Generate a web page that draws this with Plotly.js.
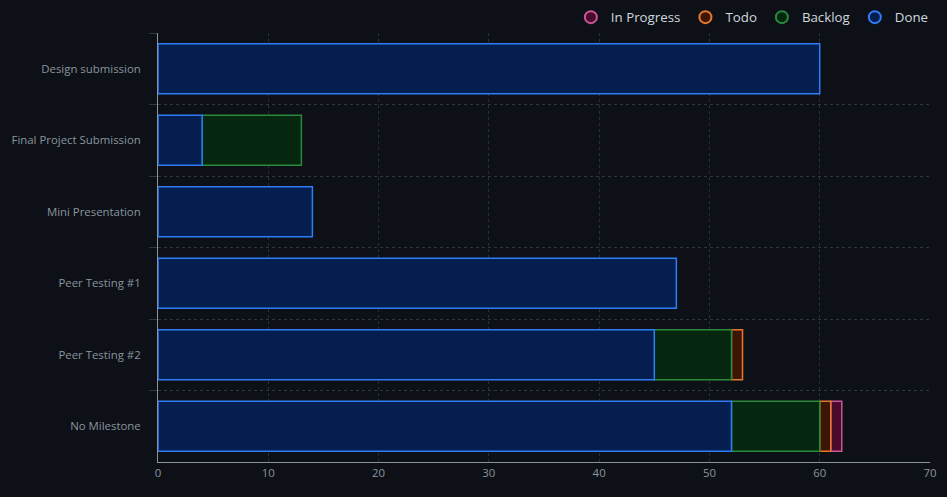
<!DOCTYPE html>
<html>
<head>
<meta charset="utf-8">
<script src="https://cdn.plot.ly/plotly-3.0.1.min.js"></script>
<style>
html,body{margin:0;padding:0;background:#0d1117;}
#chart{width:947px;height:497px;}
</style>
</head>
<body>
<div id="chart"></div>
<script>
const categories = ["Design submission", "Final Project Submission", "Mini Presentation", "Peer Testing #1", "Peer Testing #2", "No Milestone"];
const done = [60, 4, 14, 47, 45, 52];
const backlog = [null, 9, null, null, 7, 8];
const todo = [null, null, null, null, 1, 1];
const inProgress = [null, null, null, null, null, 1];

const seriesNames = ["Done", "Backlog", "Todo", "In Progress"];
const seriesValues = [done, backlog, todo, inProgress];
const fills = ["#041e4f", "#05260f", "#3d1505", "#4a0a2c"];
const borders = ["#2f7cf6", "#2a8a3a", "#e8772b", "#cc559a"];

// stacked bases computed from the series (Done at the base)
const bases = [];
let running = categories.map(() => 0);
seriesValues.forEach((vals) => {
  bases.push(running.slice());
  running = running.map((r, j) => r + (vals[j] || 0));
});

const traces = [];
// draw later series first so earlier series' borders sit on top
for (let i = seriesValues.length - 1; i >= 0; i--) {
  traces.push({
    type: "bar", orientation: "h",
    y: categories, x: seriesValues[i], base: bases[i],
    name: seriesNames[i],
    showlegend: false,
    marker: {color: fills[i], line: {color: borders[i], width: 1.5}},
    hoverinfo: "x+name"
  });
}
for (let i = seriesNames.length - 1; i >= 0; i--) {
  traces.push({
    type: "scatter", mode: "markers",
    x: [null], y: [null], name: seriesNames[i],
    marker: {symbol: "circle", size: 12, color: fills[i], line: {color: borders[i], width: 2}}
  });
}

const layout = {
  width: 947, height: 497,
  paper_bgcolor: "#0d1117", plot_bgcolor: "#0d1117",
  font: {family: "Open Sans, Noto Sans, sans-serif", color: "#8b949e", size: 11.4},
  barmode: "overlay", bargap: 0.3,
  margin: {l: 158, r: 17, t: 33, b: 35, autoexpand: false},
  showlegend: true,
  legend: {orientation: "h", x: 1.005, xanchor: "right", y: 1.0, yanchor: "bottom",
    traceorder: "normal", font: {color: "#d0d7de", size: 13.3}, itemwidth: 30,
    bgcolor: "rgba(0,0,0,0)", tracegroupgap: 0},
  xaxis: {range: [0, 70], dtick: 10, showgrid: true, gridcolor: "#2a3038", griddash: "dot",
    zeroline: false, showline: true, linecolor: "#8b949e", linewidth: 1,
    ticks: "", tickfont: {size: 11.4, color: "#8b949e"}, fixedrange: true},
  yaxis: {categoryorder: "array", categoryarray: categories, autorange: "reversed",
    tickson: "boundaries", showgrid: true, gridcolor: "#30363d", griddash: "dot",
    showline: true, linecolor: "#8b949e", linewidth: 1,
    ticks: "outside", ticklen: 8, tickcolor: "#30363d", ticklabelstandoff: 14,
    tickfont: {size: 11.4, color: "#8b949e"}, fixedrange: true}
};

Plotly.newPlot("chart", traces, layout, {displayModeBar: false, staticPlot: true});
</script>
</body>
</html>
